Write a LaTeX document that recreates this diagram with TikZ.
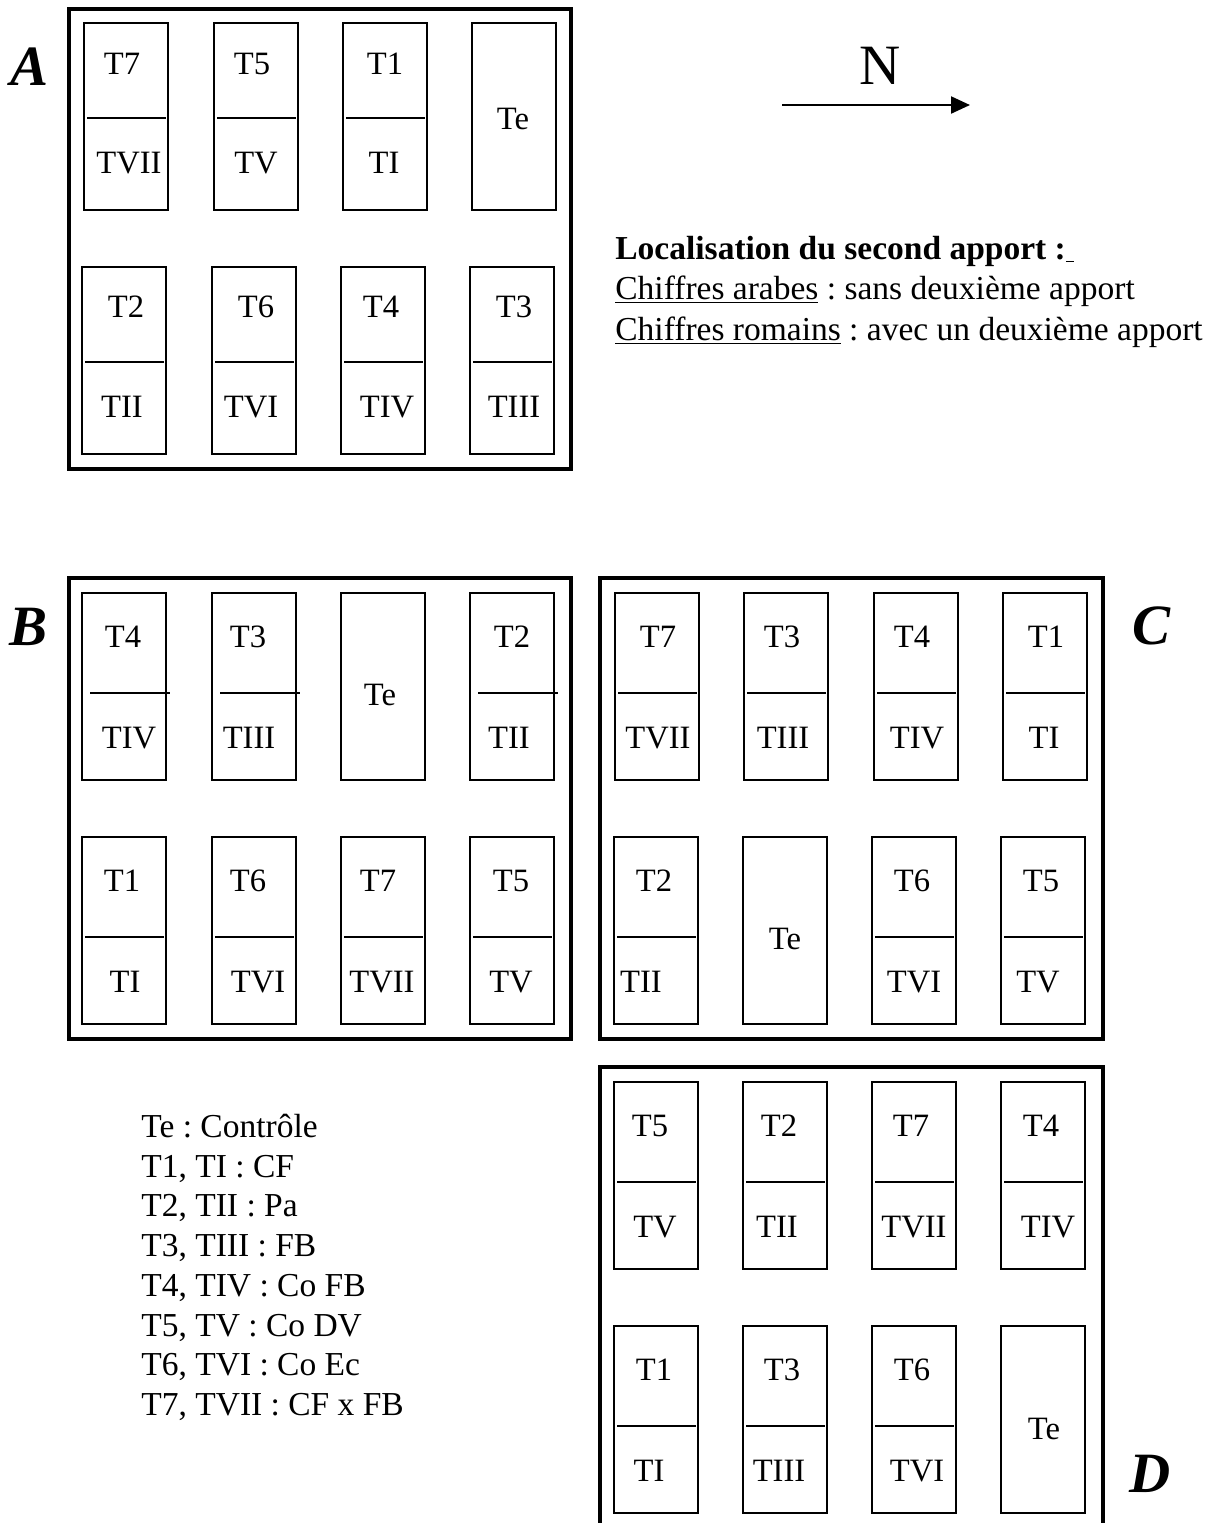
\documentclass[tikz,border=0pt]{standalone}
\usepackage{fontspec}
\setmainfont{Liberation Serif}
\frenchspacing
\usetikzlibrary{calc,arrows.meta}
\tikzset{
  plotbox/.style={draw, line width=0.85pt, rectangle, minimum width=42pt, minimum height=93.5pt, inner sep=0pt, outer sep=0pt, anchor=north west},
  divline/.style={line width=0.85pt},
  lab/.style={inner sep=0pt, font=\fontsize{16.3}{19}\selectfont},
  field/.style={line width=2pt},
  blocklab/.style={inner sep=0pt, font=\fontsize{28.5}{32}\selectfont\bfseries\itshape},
  northlab/.style={inner sep=0pt, font=\fontsize{28.5}{32}\selectfont},
  txt/.style={inner sep=0pt, anchor=base west, font=\fontsize{16.75}{20}\selectfont\frenchspacing},
}
\newcommand\pTop{40}
\newcommand\pDiv{95}
\newcommand\pBot{140}
\newcommand\pDl{3}
\newcommand\pDr{-2}
\newcommand\parc[7]{%
  \node[plotbox] (#1) at (#2,#3) {};
  \draw[divline] ($(#1.north west)+(\pDl,\pDiv)$) -- ($(#1.north east)+(\pDr,\pDiv)$);
  \node[lab] (#1-t) at (#5,#3+\pTop) {#4};
  \node[lab] (#1-b) at (#7,#3+\pBot) {#6};
}
\newcommand\parcte[5]{%
  \node[plotbox] (#1) at (#2,#3) {};
  \node[lab] (#1-t) at (#4,#5) {Te};
}
\begin{document}
\begin{tikzpicture}[x=0.5pt,y=-0.5pt]
\useasboundingbox (0,0) rectangle (1215,1523);

% ---------- Block A ----------
\draw[field] (69,9) rectangle (571,469);
\node[blocklab] (labA) at (30,67) {A};
\renewcommand\pTop{41}\renewcommand\pDiv{95}\renewcommand\pBot{140}
\parc{a1}{84}{23}{T7}{122}{TVII}{129}
\parc{a2}{214}{23}{T5}{252}{TV}{256}
\parc{a3}{343}{23}{T1}{385}{TI}{384}
\parcte{a4}{472}{23}{513}{119}
\renewcommand\pTop{40}
\parc{a5}{82}{267}{T2}{126}{TII}{122}
\parc{a6}{212}{267}{T6}{256}{TVI}{251}
\parc{a7}{341}{267}{T4}{381}{TIV}{387}
\parc{a8}{470}{267}{T3}{514}{TIII}{514}

% ---------- North arrow ----------
\node[northlab] (north) at (880,66) {N};
\coordinate (arrS) at (782,105);
\coordinate (arrE) at (970,105);
\draw[line width=1.1pt, -{Triangle[length=9.5pt,width=8.5pt]}] (arrS) -- (arrE);

% ---------- Localisation text ----------
\node[txt] (loc1) at (615,259) {\bfseries Localisation du second apport :\underline{\ }};
\node[txt] (loc2) at (615,299) {\underline{Chiffres arabes} : sans deuxième apport};
\node[txt] (loc3) at (615,340) {\underline{Chiffres romains} : avec un deuxième apport};

% ---------- Block B ----------
\draw[field] (69,578) rectangle (571,1039);
\node[blocklab] (labB) at (29,627) {B};
\renewcommand\pTop{44}\renewcommand\pDiv{100}\renewcommand\pBot{145}
\renewcommand\pDl{8}\renewcommand\pDr{4}
\parc{b1}{82}{593}{T4}{123}{TIV}{129}
\parc{b2}{212}{593}{T3}{248}{TIII}{249}
\parcte{b3}{341}{593}{380}{695}
\parc{b4}{470}{593}{T2}{512}{TII}{509}
\renewcommand\pDl{3}\renewcommand\pDr{-2}
\parc{b5}{82}{837}{T1}{122}{TI}{125}
\parc{b6}{212}{837}{T6}{248}{TVI}{258}
\parc{b7}{341}{837}{T7}{378}{TVII}{382}
\parc{b8}{470}{837}{T5}{511}{TV}{511}

% ---------- Block C ----------
\draw[field] (600,578) rectangle (1103,1039);
\node[blocklab] (labC) at (1152,626) {C};
\parc{c1}{615}{593}{T7}{658}{TVII}{658}
\parc{c2}{744}{593}{T3}{782}{TIII}{783}
\parc{c3}{874}{593}{T4}{912}{TIV}{917}
\parc{c4}{1003}{593}{T1}{1046}{TI}{1044}
\parc{c5}{614}{837}{T2}{654}{TII}{641}
\parcte{c6}{743}{837}{785}{939}
\parc{c7}{872}{837}{T6}{912}{TVI}{914}
\parc{c8}{1001}{837}{T5}{1041}{TV}{1038}

% ---------- Block D ----------
\draw[field] (600,1535) -- (600,1067) -- (1103,1067) -- (1103,1535);
\node[blocklab] (labD) at (1150,1474) {D};
\parc{d1}{614}{1082}{T5}{650}{TV}{655}
\parc{d2}{743}{1082}{T2}{779}{TII}{777}
\parc{d3}{872}{1082}{T7}{911}{TVII}{914}
\parc{d4}{1001}{1082}{T4}{1041}{TIV}{1048}
\parc{d5}{614}{1326}{T1}{654}{TI}{649}
\parc{d6}{743}{1326}{T3}{782}{TIII}{779}
\parc{d7}{872}{1326}{T6}{912}{TVI}{917}
\parcte{d8}{1001}{1326}{1044}{1429}

% ---------- Legend ----------
\node[txt] (leg0) at (141,1137) {Te : Contrôle};
\node[txt] (leg1) at (141,1177) {T1, TI : CF};
\node[txt] (leg2) at (141,1216) {T2, TII : Pa};
\node[txt] (leg3) at (141,1256) {T3, TIII : FB};
\node[txt] (leg4) at (141,1296) {T4, TIV : Co FB};
\node[txt] (leg5) at (141,1336) {T5, TV : Co DV};
\node[txt] (leg6) at (141,1375) {T6, TVI : Co Ec};
\node[txt] (leg7) at (141,1415) {T7, TVII : CF x FB};
\end{tikzpicture}
\end{document}
